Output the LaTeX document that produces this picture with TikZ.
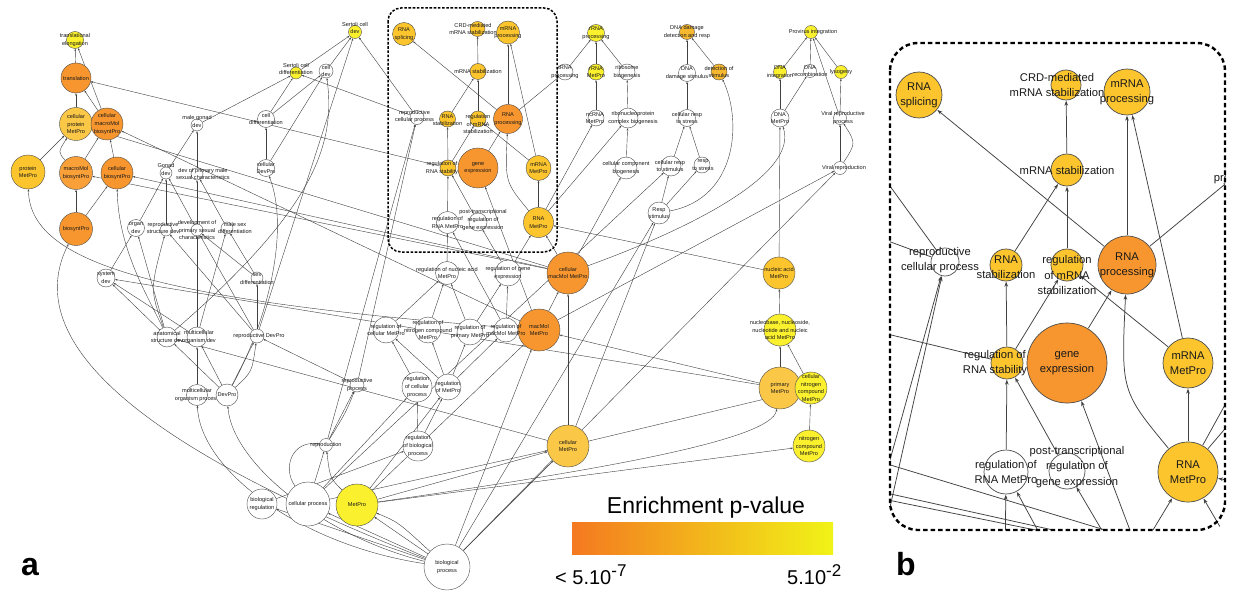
\documentclass[tikz,border=0pt]{standalone}
\usepackage{fontspec}
\setmainfont{Liberation Sans}
\usetikzlibrary{arrows.meta,backgrounds}
\definecolor{cO}{HTML}{F7962E}
\definecolor{cOt}{HTML}{F9A038}
\definecolor{cYO}{HTML}{FCC52E}
\definecolor{cYOp}{HTML}{FAC746}
\definecolor{cAm}{HTML}{F6B830}
\definecolor{cY}{HTML}{FAF02E}
\definecolor{gL}{HTML}{F47920}
\definecolor{gM}{HTML}{F4B41A}
\definecolor{gR}{HTML}{F1F317}
\def\nlw{0.4pt}
\def\elw{0.4pt}
\def\alen{2.4pt}
\def\awid{1.8pt}
\newif\ifinbox
\tikzset{
  gn/.style={circle,draw=black!70,line width=\nlw,inner sep=0pt,minimum size=#1},
  tx/.style={font=\fontsize{5.6}{7.6}\selectfont,align=center,inner sep=0pt,text=black!90},
  ed/.style={draw=black!75,line width=\elw,-{Stealth[length=\alen,width=\awid]}},
  abox/.style={draw=black,line width=1.5pt,dash pattern=on 2.6pt off 1.6pt,rounded corners=13pt},
  bbox/.style={draw=black,line width=2.4pt,dash pattern=on 4.5pt off 3pt,rounded corners=28pt},
}
\newcommand\gnd[7]{\node[gn=#4,fill=#5,label={[tx,#7]center:{#6}}] (\pfx#1) at (#2,#3) {};}
% zoomed copy: labels only for nodes in or next to the boxed region
\newcommand\gndb[7]{\inboxtrue
  \ifdim #2pt<360pt \inboxfalse\fi
  \ifdim #2pt>590pt \inboxfalse\fi
  \ifdim #3pt>262pt \inboxfalse\fi
  \ifinbox\node[gn=#4,fill=#5,label={[tx,#7]center:{#6}}] (\pfx#1) at (#2,#3) {};%
  \else\node[gn=#4,fill=#5] (\pfx#1) at (#2,#3) {};\fi}
\newcommand\ged[3][]{\draw[ed,#1] (\pfx#2) -- (\pfx#3);}
\newcommand\drawgraph[1]{%
\gnd{te}{75}{40}{17}{cY}{translational\\elongation}{}
\gnd{tr}{76}{78}{30}{cO}{translation}{}
\gnd{cpm}{76}{124}{33}{cYOp}{cellular\\protein\\MetPro}{}
\gnd{cmb}{107}{124}{32}{cO}{cellular\\macroMol\\biosyntPro}{}
\gnd{pm}{28}{172}{34}{cYO}{protein\\MetPro}{}
\gnd{mb}{76}{173}{33}{cOt}{macroMol\\biosyntPro}{}
\gnd{cb}{117}{173}{32}{cO}{cellular\\biosyntPro}{}
\gnd{bs}{76}{229}{33}{cO}{biosyntPro}{}
\gnd{mgd}{197}{125}{12}{white}{male gonad\\dev}{yshift=3.8}
\gnd{gd}{166}{173}{12}{white}{Gonad\\dev}{yshift=3.8}
\gnd{dpm}{197}{174}{12}{white}{dev of primary male\\sexual characteristics}{xshift=6}
\gnd{od}{136}{228}{17}{white}{organ\\dev}{}
\gnd{rsd}{166}{230}{12}{white}{reproductive\\structure dev}{xshift=-3,yshift=2}
\gnd{dps}{197}{230}{12}{white}{development of\\primary sexual\\characteristics}{}
\gnd{msd}{227}{228}{12}{white}{male sex\\differentiation}{xshift=8}
\gnd{sd}{106}{278}{18}{white}{system\\dev}{}
\gnd{sxd}{257}{278}{12}{white}{sex\\differentiation}{yshift=-1}
\gnd{asd}{167}{337}{20}{white}{anatomical\\structure dev}{}
\gnd{mod}{197}{337}{20}{white}{multicellular\\organism dev}{xshift=2}
\gnd{rdp}{257}{336}{14}{white}{reproductive DevPro}{xshift=2}
\gnd{mop}{197}{395}{21}{white}{multicellular\\organism process}{}
\gnd{dp}{227}{395}{22}{white}{DevPro}{}
\gnd{scd}{355}{32}{13}{cY}{Sertoli cell\\dev}{yshift=3.8}
\gnd{scdf}{296}{73}{12}{cY}{Sertoli cell\\differentiation}{yshift=4}
\gnd{cd}{326}{71}{14}{white}{cell\\dev}{}
\gnd{cdf}{266}{119}{17}{white}{cell\\differentiation}{}
\gnd{cdp}{266}{168}{17}{white}{cellular\\DevPro}{}
\gnd{rs}{404}{34}{23}{cYO}{RNA\\splicing}{}
\gnd{crd}{477.5}{29}{15}{cYO}{CRD-mediated\\mRNA stabilization}{xshift=-4.5}
\gnd{mp}{508}{32.5}{23}{cYO}{mRNA\\processing}{}
\gnd{mst}{478}{71.5}{16}{cYO}{mRNA stabilization}{}
\gnd{rcp}{417}{117.5}{14}{white}{reproductive\\cellular process}{xshift=-2.5,yshift=1}
\gnd{rst}{447.5}{119}{16}{cYO}{RNA\\stabilization}{yshift=-1}
\gnd{rmst}{478}{119}{16}{cYO}{regulation\\of mRNA\\stabilization}{yshift=-5}
\gnd{rp}{508}{119}{29}{cO}{RNA\\processing}{}
\gnd{rrs}{448}{168}{16}{cYO}{regulation of\\RNA stability}{xshift=-6}
\gnd{ge}{478}{168}{40}{cO}{gene\\expression}{}
\gnd{mm}{538.5}{168}{25}{cYO}{mRNA\\MetPro}{}
\gnd{rrm}{447.5}{222.5}{22}{white}{regulation of\\RNA MetPro}{}
\gnd{ptr}{478}{222}{18}{white}{post-transcriptional\\regulation of\\gene expression}{xshift=5,yshift=2}
\gnd{rm}{538.5}{222.5}{30}{cYO}{RNA\\MetPro}{}
\gnd{tp}{565}{72}{16}{white}{tRNA\\processing}{}
\gnd{rrp}{596}{33}{17}{cY}{rRNA\\processing}{}
\gnd{rrmp}{596}{72}{16}{cY}{rRNA\\MetPro}{}
\gnd{rb}{627}{72}{16}{white}{ribosome\\biogenesis}{}
\gnd{nc}{596}{118}{16}{white}{ncRNA\\MetPro}{xshift=-1}
\gnd{rcb}{628}{118}{20}{white}{ribonucleoprotein\\complex biogenesis}{xshift=5}
\gnd{ccb}{626}{168}{22}{white}{cellular component\\biogenesis}{}
\gnd{ddr}{687}{32}{15}{cAm}{DNA damage\\detection and resp}{}
\gnd{dds}{687}{73}{17}{white}{DNA\\damage stimulus}{}
\gnd{dos}{719}{72}{16}{cAm}{detection of\\stimulus}{}
\gnd{crs}{687}{118}{17}{white}{cellular resp\\to stress}{}
\gnd{crst}{671}{166}{20}{white}{cellular resp\\to stimulus}{xshift=-1}
\gnd{rts}{702}{165}{16}{white}{resp\\to stress}{xshift=1}
\gnd{rsti}{659}{213}{22}{white}{Resp\\stimulus}{}
\gnd{pi}{811}{32}{13}{cY}{Provirus integration}{xshift=2}
\gnd{di}{780}{72}{13}{cY}{DNA\\integration}{}
\gnd{dr}{810}{71}{13}{white}{DNA\\recombination}{}
\gnd{ly}{841}{72}{13}{cY}{lysogeny}{}
\gnd{dm}{780}{118}{18}{white}{DNA\\MetPro}{}
\gnd{vrp}{840}{118}{13}{white}{Viral reproductive\\process}{xshift=3}
\gnd{vr}{840}{168}{13}{white}{Viral reproduction}{xshift=4}
\gnd{cmm}{568}{273}{42}{cO}{cellular\\macMol MetPro}{}
\gnd{mmm}{539}{330}{42}{cO}{macMol\\MetPro}{}
\gnd{nam}{779}{273}{32}{cYO}{nucleic acid\\MetPro}{}
\gnd{nb}{780}{330}{32}{cY}{nucleobase, nucleoside,\\nucleotide and nucleic\\acid MetPro}{}
\gnd{prm}{780}{388}{42}{cYOp}{primary\\MetPro}{}
\gnd{cnc}{811}{388}{32}{cY}{cellular\\nitrogen\\compound\\MetPro}{}
\gnd{cm}{568}{446}{42}{cYOp}{cellular\\MetPro}{}
\gnd{ncm}{809}{446}{32}{cY}{nitrogen\\compound\\MetPro}{}
\gnd{rna}{447}{273}{23}{white}{regulation of nucleic acid\\MetPro}{}
\gnd{rge}{508}{273}{26}{white}{regulation of gene\\expression}{}
\gnd{rcm}{386}{330}{26}{white}{regulation of\\cellular MetPro}{}
\gnd{rnc}{428}{330}{26}{white}{regulation of\\nitrogen compound\\MetPro}{}
\gnd{rpm}{470}{332}{26}{white}{regulation of\\primary MetPro}{}
\gnd{rmm}{506}{330}{24}{white}{regulation of\\macMol MetPro}{}
\gnd{rpr}{357}{385}{14}{white}{reproductive\\process}{}
\gnd{rcpr}{417}{387}{30}{white}{regulation\\of cellular\\process}{}
\gnd{rmp}{448}{387}{26}{white}{regulation\\of MetPro}{}
\gnd{rbp}{418}{446}{30}{white}{regulation\\of biological\\process}{}
\gnd{rep}{326}{445}{13}{white}{reproduction}{}
\gnd{br}{262}{504}{30}{white}{biological\\regulation}{}
\gnd{cp}{308}{504}{44}{white}{cellular process}{}
\gnd{mt}{357}{505}{42}{cY}{MetPro}{}
\gnd{bp}{447}{567}{46}{white}{biological\\process}{}
\begin{pgfonlayer}{background}\begin{scope}#1
% top-left cluster
\ged{tr}{te}\ged{cmb}{te}\ged{cmb}{tr}\ged{cpm}{tr}\ged{rrs}{tr}
\ged{pm}{cpm}
\draw[ed] (\pfx mb) .. controls (58,152) .. (\pfx cpm);
\ged{mb}{cmb}\ged{cb}{cmb}\ged{mmm}{cmb}\ged{cmm}{mb}\ged{cmm}{cpm}\ged{cmm}{cb}
\draw[ed] (\pfx mmm) .. controls (150,300) and (30,262) .. (\pfx pm);
\ged{bs}{mb}\ged{bs}{cb}
\draw[ed] (\pfx bp) .. controls (200,470) and (10,360) .. (\pfx bs);
\draw[ed] (\pfx asd) .. controls (150,300) and (118,250) .. (\pfx cb);
% development cluster
\ged{gd}{mgd}\ged{dpm}{mgd}\ged{mgd}{scdf}
\ged{od}{gd}\ged{rsd}{gd}\ged{dps}{gd}\ged{dps}{dpm}\ged{msd}{dpm}
\ged{sd}{od}\ged{asd}{od}
\draw[ed] (\pfx asd) .. controls (150,290) .. (\pfx rsd);
\ged{rdp}{rsd}\ged{mod}{dps}\ged{sxd}{dps}\ged{rdp}{dps}
\ged{sxd}{msd}\ged{mod}{msd}\ged{rdp}{sxd}
\ged{asd}{sd}\ged{mod}{sd}\ged{mop}{mod}
\ged{dp}{asd}\ged{dp}{mod}\ged{dp}{rdp}
\draw[ed] (\pfx dp) .. controls (252,372) .. (\pfx rdp);
\ged{rpr}{rdp}
\draw[ed] (\pfx dp) .. controls (268,320) and (290,230) .. (\pfx cdp);
\ged{cdp}{cdf}\ged{cdp}{cd}\ged{cdf}{cd}\ged{cdf}{scdf}\ged{cd}{scd}\ged{scdf}{scd}
\draw[ed] (\pfx asd) .. controls (320,205) and (335,140) .. (\pfx cd);
\ged{rdp}{scd}\ged{rcp}{scdf}\ged{rcp}{scd}
\ged{prm}{sd}\ged{cm}{asd}
% RNA box
\ged{mst}{crd}\ged{rst}{mst}\ged{rmst}{mst}
\ged{rp}{rs}\ged{rp}{mp}\ged{mm}{mp}\ged{rp}{tp}
\ged{rrs}{rst}\ged{rrs}{rmst}\ged{ge}{rp}
\draw[ed] (\pfx rm) .. controls (505,182) .. (\pfx rp);
\ged{mm}{rmst}\ged{rrm}{rrs}\ged{ptr}{rrs}\ged{rm}{mm}
\ged{rna}{rrm}\ged{rmm}{rrm}\ged{rge}{ptr}\ged{rge}{rm}
\ged{rm}{nc}\ged{rm}{rcb}\ged{nam}{rm}\ged{cmm}{rm}\ged{mmm}{ge}
\ged{rpr}{rcp}\ged{rep}{rcp}
% right clusters
\ged{tp}{rrp}\ged{rrmp}{rrp}\ged{rb}{rrp}\ged{nc}{rrmp}\ged{rcb}{rb}\ged{ccb}{rcb}\ged{cmm}{ccb}
\ged{dds}{ddr}\ged{dos}{ddr}\ged{crs}{dds}\ged{crst}{crs}\ged{rts}{crs}
\ged{rsti}{crst}\ged{rsti}{rts}
\draw[ed] (\pfx rsti) .. controls (738,198) and (742,120) .. (\pfx dos);
\ged{cp}{crst}\ged{cm}{rsti}\ged{bp}{rsti}
\ged{di}{pi}\ged{dr}{pi}\ged{ly}{pi}\ged{vrp}{pi}
\ged{dm}{dr}\ged{dm}{di}\ged{vrp}{ly}\ged{vr}{vrp}
\draw[ed] (\pfx vr) .. controls (856,143) .. (\pfx vrp);
\ged{nam}{dm}
\draw[ed] (\pfx cmm) .. controls (700,225) and (798,172) .. (\pfx dm);
\ged{mmm}{vr}\ged{bp}{vr}
\ged{nb}{nam}\ged{prm}{nb}\ged{cnc}{nb}\ged{ncm}{cnc}
\ged{prm}{mmm}\ged{cm}{cnc}\ged{cm}{cmm}\ged{mmm}{cmm}
% regulation cluster
\ged{rcm}{rna}\ged{rnc}{rna}\ged{rpm}{rna}\ged{rmm}{rge}\ged{rpm}{rge}
\ged{rcpr}{rcm}\ged{rmp}{rcm}\ged{rmp}{rnc}\ged{rmp}{rpm}\ged{rmp}{rmm}
\ged{rbp}{rcpr}\ged{rbp}{rmp}\ged{br}{rbp}\ged{cp}{rcpr}\ged{mt}{rmp}
\ged{mt}{mmm}\ged{mt}{cm}\ged{cp}{cm}\ged{mt}{ncm}
\draw[ed] (\pfx mt) .. controls (600,470) and (772,440) .. (\pfx prm);
% bottom
\ged{rep}{rpr}
\draw[ed] (\pfx rep) .. controls (346,412) .. (\pfx rpr);
\ged{cp}{rep}
\draw[ed] (\pfx cp) .. controls (282,468) and (292,440) .. (\pfx rep);
\draw[ed] (\pfx mt) .. controls (330,478) .. (\pfx rep);
\ged{bp}{br}\ged{bp}{cp}\ged{bp}{mt}
\draw[ed] (\pfx bp) .. controls (398,522) .. (\pfx mt);
\ged{bp}{mmm}\ged{bp}{cm}
\draw[ed] (\pfx bp) .. controls (300,545) and (200,470) .. (\pfx mop);
\draw[ed] (\pfx bp) .. controls (320,535) and (232,462) .. (\pfx dp);
\end{scope}\end{pgfonlayer}}
\begin{document}
\begin{tikzpicture}[x=1pt,y=-1pt]
\useasboundingbox (0,0) rectangle (1235,591);
\begin{pgfonlayer}{background}
\fill[white] (0,0) rectangle (1235,591);
\end{pgfonlayer}
% ---------- panel a
\begin{scope}
\def\pfx{a}
\drawgraph{}
\end{scope}
\draw[abox] (388,8) rectangle (557,252);
% ---------- panel b (2x view of the boxed region)
\begin{scope}
\clip[rounded corners=28pt] (890,43) rectangle (1225,530);
\begin{scope}[shift={(111,27)},scale=2,transform shape]
\def\pfx{b}
\def\nlw{0.7pt}
\def\elw{0.75pt}
\def\alen{5pt}
\def\awid{3.6pt}
\let\gnd\gndb
\drawgraph{\clip[rounded corners=14pt] (389.5,8) rectangle (557,251.5);}
\end{scope}
\end{scope}
\draw[bbox] (890,43) rectangle (1225,530);
% ---------- legend
\node[anchor=base,font=\fontsize{23}{23}\selectfont] (legtitle) at (706,513) {Enrichment p-value};
\node[minimum width=261pt,minimum height=32pt,inner sep=0pt,left color=gL,middle color=gM,right color=gR] (legbar) at (702.5,538) {};
\node[anchor=base west,font=\fontsize{20}{20}\selectfont,inner sep=0pt] (legmin) at (555,584) {< 5.10\raisebox{8pt}{\fontsize{17}{17}\selectfont -7}};
\node[anchor=base west,font=\fontsize{20}{20}\selectfont,inner sep=0pt] (legmax) at (787,584) {5.10\raisebox{8pt}{\fontsize{17}{17}\selectfont -2}};
% ---------- panel letters
\node[anchor=base,font=\bfseries\fontsize{32}{32}\selectfont,inner sep=0pt] (laba) at (30,575) {a};
\node[anchor=base,font=\bfseries\fontsize{32}{32}\selectfont,inner sep=0pt] (labb) at (906,575) {b};
\end{tikzpicture}
\end{document}
